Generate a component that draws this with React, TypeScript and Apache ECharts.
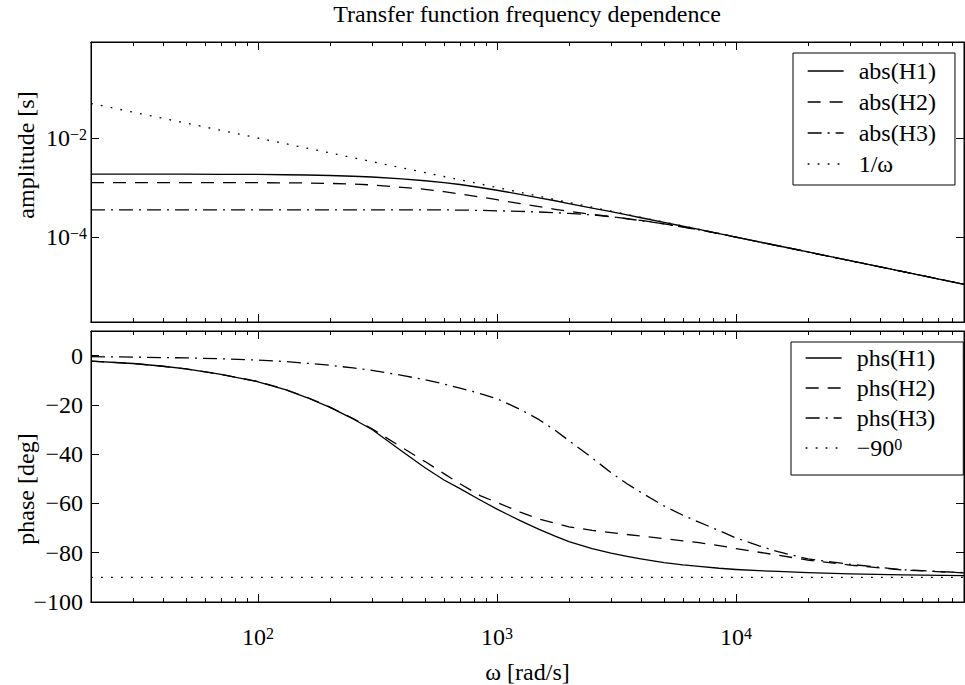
import React, { useEffect, useRef } from 'react';
import * as echarts from 'echarts';

// ---------- data ----------
const omega = [20, 30, 40, 50, 70, 100, 130, 160, 200, 250, 300, 400, 500, 600, 700, 850, 1000, 1250, 1500, 1750, 2000, 2500, 3000, 3500, 4000, 5000, 6000, 7000, 8500, 10000, 12500, 15000, 20000, 30000, 50000, 90000];

const ampH1 = [1.87e-3, 1.87e-3, 1.865e-3, 1.86e-3, 1.85e-3, 1.84e-3, 1.81e-3, 1.79e-3, 1.75e-3, 1.69e-3, 1.63e-3, 1.5e-3, 1.37e-3, 1.255e-3, 1.15e-3, 1.0e-3, 8.8e-4, 7.3e-4, 6.2e-4, 5.4e-4, 4.75e-4, 3.85e-4, 3.25e-4, 2.8e-4, 2.45e-4, 1.97e-4, 1.65e-4, 1.42e-4, 1.17e-4, 1.0e-4, 8.0e-5, 6.66e-5, 5.0e-5, 3.33e-5, 2.0e-5, 1.11e-5];
const ampH2 = [1.25e-3, 1.25e-3, 1.25e-3, 1.25e-3, 1.25e-3, 1.25e-3, 1.245e-3, 1.235e-3, 1.21e-3, 1.17e-3, 1.13e-3, 1.01e-3, 9.2e-4, 8.25e-4, 7.43e-4, 6.43e-4, 5.67e-4, 4.74e-4, 4.1e-4, 3.63e-4, 3.29e-4, 2.87e-4, 2.58e-4, 2.35e-4, 2.16e-4, 1.85e-4, 1.6e-4, 1.4e-4, 1.17e-4, 9.95e-5, 8.0e-5, 6.65e-5, 5.0e-5, 3.33e-5, 2.0e-5, 1.11e-5];
const ampH3 = [3.55e-4, 3.55e-4, 3.55e-4, 3.55e-4, 3.55e-4, 3.55e-4, 3.55e-4, 3.55e-4, 3.55e-4, 3.55e-4, 3.55e-4, 3.55e-4, 3.54e-4, 3.53e-4, 3.5e-4, 3.45e-4, 3.38e-4, 3.3e-4, 3.2e-4, 3.1e-4, 3.0e-4, 2.8e-4, 2.57e-4, 2.34e-4, 2.15e-4, 1.84e-4, 1.59e-4, 1.4e-4, 1.17e-4, 9.9e-5, 7.95e-5, 6.62e-5, 4.98e-5, 3.33e-5, 2.0e-5, 1.11e-5];
const ampInv = [5e-2, 3.33e-2, 2.5e-2, 2e-2, 1.43e-2, 1e-2, 7.69e-3, 6.25e-3, 5e-3, 4e-3, 3.33e-3, 2.5e-3, 2e-3, 1.67e-3, 1.43e-3, 1.18e-3, 1e-3, 8e-4, 6.67e-4, 5.71e-4, 5e-4, 4e-4, 3.33e-4, 2.86e-4, 2.5e-4, 2e-4, 1.67e-4, 1.43e-4, 1.18e-4, 1e-4, 8e-5, 6.67e-5, 5e-5, 3.33e-5, 2e-5, 1.11e-5];

const phsH1 = [-2.2, -3.2, -4.3, -5.4, -7.6, -10.6, -13.8, -17, -21, -25.7, -30, -38.8, -45.5, -50.5, -54, -58.6, -62.3, -67, -70.5, -73.3, -75.5, -78.3, -80.2, -81.5, -82.5, -84, -84.9, -85.5, -86.3, -86.8, -87.3, -87.6, -88.1, -88.6, -89, -89.3];
const phsH2 = [-2.2, -3.2, -4.3, -5.4, -7.6, -10.5, -13.7, -16.9, -20.9, -25.5, -29.7, -37.3, -43, -47.9, -52, -56.8, -59.6, -63.5, -66.3, -68, -69.5, -70.9, -71.8, -72.6, -73.2, -74.3, -75.2, -75.9, -77.1, -78.3, -79.8, -81, -83, -85, -87, -88.2];
const phsH3 = [-0.4, -0.6, -0.8, -0.9, -1.3, -1.8, -2.4, -3.1, -3.9, -5, -6, -8, -9.8, -11.5, -13.2, -15.4, -17.5, -21.8, -26, -30.3, -34.5, -41.5, -47.5, -52, -55.5, -61, -64.8, -67.6, -71, -74, -77.2, -79.6, -82.5, -84.7, -86.9, -88.1];
const ref90Omega = [20, 90000];
const ref90Phase = [-90, -90];

// ---------- ticks ----------
const xMajorTicks = [100, 1000, 10000];
const xMinorTicks = [20, 30, 40, 50, 60, 70, 80, 90, 200, 300, 400, 500, 600, 700, 800, 900, 2000, 3000, 4000, 5000, 6000, 7000, 8000, 9000, 20000, 30000, 40000, 50000, 60000, 70000, 80000];
const ampTicks = [1e-2, 1e-4];
const phaseTicks = [-100, -80, -60, -40, -20, 0];

const X_MIN = 20;
const X_MAX = 90000;
const AMP_MIN = 1.92e-6;
const AMP_MAX = 0.87;
const PH_MIN = -100;
const PH_MAX = 10;

const NAMES_TOP = ['abs(H1)', 'abs(H2)', 'abs(H3)', '1/ω'];
const NAME90 = '−90⁰';
const NAMES_BOT = ['phs(H1)', 'phs(H2)', 'phs(H3)', NAME90];

const FONT = '"Liberation Serif", "Times New Roman", Times, serif';
const FS = 24;

const DASH_SOLID: any = 'solid';
const DASH_DASHED = [13, 9];
const DASH_DOTDASH = [14, 6, 2, 6];
const DASH_DOTTED = [1.8, 8.2];

const supRich = {
  b: { fontFamily: FONT, fontSize: FS, color: '#000', lineHeight: 24 },
  s: { fontFamily: FONT, fontSize: 16, color: '#000', lineHeight: 12, verticalAlign: 'top' },
};

const minus = (v: number) => (v < 0 ? '−' + Math.abs(v) : String(v));

function pairs(xs: number[], ys: number[]) {
  return xs.map((x, i) => [x, ys[i]]);
}

function xAxis(gridIndex: number, position: 'top' | 'bottom', ticks: number[], len: number, extra: any = {}) {
  return {
    type: 'log',
    logBase: 10,
    gridIndex,
    position,
    min: X_MIN,
    max: X_MAX,
    axisLine: { show: true, onZero: false, lineStyle: { color: '#000', width: 1 } },
    axisTick: { show: true, inside: true, length: len, customValues: ticks, lineStyle: { color: '#000', width: 1 } },
    axisLabel: { show: false },
    splitLine: { show: false },
    minorTick: { show: false },
    minorSplitLine: { show: false },
    axisPointer: { show: false },
    silent: true,
    ...extra,
  };
}

function yAxis(gridIndex: number, type: 'log' | 'value', position: 'left' | 'right', min: number, max: number, ticks: number[], extra: any = {}) {
  return {
    type,
    gridIndex,
    position,
    min,
    max,
    ...(type === 'log' ? { logBase: 10 } : {}),
    axisLine: { show: true, onZero: false, lineStyle: { color: '#000', width: 1 } },
    axisTick: { show: true, inside: true, length: 8, customValues: ticks, lineStyle: { color: '#000', width: 1 } },
    axisLabel: { show: false },
    splitLine: { show: false },
    minorTick: { show: false },
    axisPointer: { show: false },
    silent: true,
    ...extra,
  };
}

function lineSeries(name: string, xi: number, yi: number, data: number[][], type: any) {
  return {
    type: 'line',
    name,
    xAxisIndex: xi,
    yAxisIndex: yi,
    data,
    symbol: 'none',
    showSymbol: false,
    smooth: false,
    silent: true,
    lineStyle: { color: '#000', width: 1.3, type, join: 'round' },
    itemStyle: { color: '#000' },
    emphasis: { disabled: true },
  };
}

function legend(names: string[], left: number, top: number, padding: number[], itemGap: number) {
  return {
    data: names,
    orient: 'vertical',
    align: 'left',
    left,
    top,
    padding,
    itemGap,
    itemWidth: 36,
    itemHeight: 22,
    selectedMode: false,
    backgroundColor: '#fff',
    borderColor: '#000',
    borderWidth: 1,
    borderRadius: 0,
    itemStyle: { opacity: 0 },
    lineStyle: { width: 1.3 },
    formatter: (n: string) => (n === NAME90 ? '{b|−90}{s|0}' : n),
    textStyle: { fontFamily: FONT, fontSize: FS, color: '#000', lineHeight: 22, padding: [0, 0, 0, 10], rich: supRich },
  };
}

function buildOption(): any {
  return {
    animation: false,
    backgroundColor: '#fff',
    title: {
      text: 'Transfer function frequency dependence',
      left: 522,
      top: -3,
      textAlign: 'center',
      textStyle: { fontFamily: FONT, fontSize: FS, fontWeight: 'normal', color: '#000' },
    },
    grid: [
      { left: 91, top: 42, width: 873, height: 280, show: true, borderColor: '#000', borderWidth: 1, backgroundColor: 'transparent' },
      { left: 91, top: 331, width: 873, height: 280, show: true, borderColor: '#000', borderWidth: 1, backgroundColor: 'transparent' },
    ],
    xAxis: [
      xAxis(0, 'bottom', xMajorTicks, 8),
      xAxis(0, 'bottom', xMinorTicks, 4),
      xAxis(0, 'top', xMajorTicks, 8),
      xAxis(0, 'top', xMinorTicks, 4),
      xAxis(1, 'bottom', xMajorTicks, 8, {
        axisLabel: {
          show: true,
          customValues: xMajorTicks,
          margin: 23,
          formatter: (v: number) => `{b|10}{s|${Math.round(Math.log10(v))}}`,
          rich: supRich,
        },
        name: 'ω [rad/s]',
        nameLocation: 'middle',
        nameGap: 58,
        nameTextStyle: { fontFamily: FONT, fontSize: FS, color: '#000' },
      }),
      xAxis(1, 'bottom', xMinorTicks, 4),
      xAxis(1, 'top', xMajorTicks, 8),
      xAxis(1, 'top', xMinorTicks, 4),
    ],
    yAxis: [
      yAxis(0, 'log', 'left', AMP_MIN, AMP_MAX, ampTicks, {
        axisLabel: {
          show: true,
          customValues: ampTicks,
          margin: 4,
          formatter: (v: number) => `{b|10}{s|${minus(Math.round(Math.log10(v)))}}`,
          rich: supRich,
        },
      }),
      yAxis(0, 'log', 'right', AMP_MIN, AMP_MAX, ampTicks),
      yAxis(1, 'value', 'left', PH_MIN, PH_MAX, phaseTicks, {
        axisLabel: {
          show: true,
          customValues: phaseTicks,
          margin: 8,
          formatter: (v: number) => minus(v),
          fontFamily: FONT,
          fontSize: FS,
          color: '#000',
        },
      }),
      yAxis(1, 'value', 'right', PH_MIN, PH_MAX, phaseTicks),
    ],
    legend: [
      legend(NAMES_TOP, 793, 53, [6, 19, 9, 14], 7),
      legend(NAMES_BOT, 791, 342, [4, 28, 15, 14], 6),
    ],
    graphic: [
      {
        type: 'text',
        x: 26,
        y: 155,
        rotation: Math.PI / 2,
        silent: true,
        style: { text: 'amplitude [s]', fontFamily: FONT, fontSize: FS, fill: '#000', align: 'center', verticalAlign: 'middle', textAlign: 'center', textVerticalAlign: 'middle' },
      },
      {
        type: 'text',
        x: 26,
        y: 489,
        rotation: Math.PI / 2,
        silent: true,
        style: { text: 'phase [deg]', fontFamily: FONT, fontSize: FS, fill: '#000', align: 'center', verticalAlign: 'middle', textAlign: 'center', textVerticalAlign: 'middle' },
      },
    ],
    series: [
      lineSeries(NAMES_TOP[0], 0, 0, pairs(omega, ampH1), DASH_SOLID),
      lineSeries(NAMES_TOP[1], 0, 0, pairs(omega, ampH2), DASH_DASHED),
      lineSeries(NAMES_TOP[2], 0, 0, pairs(omega, ampH3), DASH_DOTDASH),
      lineSeries(NAMES_TOP[3], 0, 0, pairs(omega, ampInv), DASH_DOTTED),
      lineSeries(NAMES_BOT[0], 4, 2, pairs(omega, phsH1), DASH_SOLID),
      lineSeries(NAMES_BOT[1], 4, 2, pairs(omega, phsH2), DASH_DASHED),
      lineSeries(NAMES_BOT[2], 4, 2, pairs(omega, phsH3), DASH_DOTDASH),
      lineSeries(NAMES_BOT[3], 4, 2, pairs(ref90Omega, ref90Phase), DASH_DOTTED),
    ],
  };
}

export default function App() {
  const ref = useRef<HTMLDivElement>(null);
  useEffect(() => {
    if (!ref.current) return;
    const chart = echarts.init(ref.current, null, { renderer: 'svg' });
    chart.setOption(buildOption());
    return () => chart.dispose();
  }, []);
  return (
    <div
      ref={ref}
      style={{ position: 'fixed', left: 0, top: 0, width: 965, height: 685, background: '#fff' }}
    />
  );
}
